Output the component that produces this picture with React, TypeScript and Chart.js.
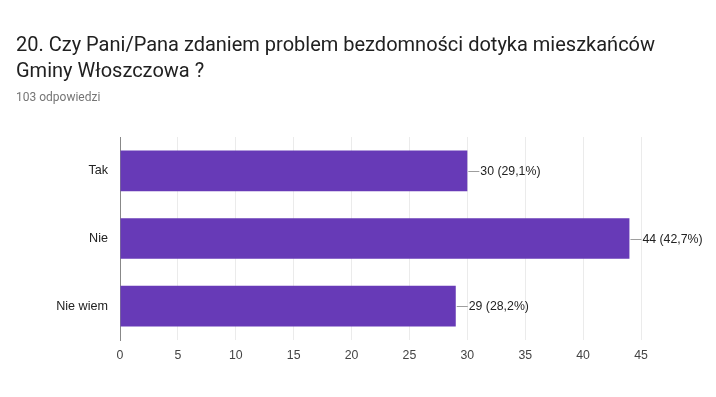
import React, { useEffect, useRef } from "react";
import { Chart, registerables } from "chart.js";

Chart.register(...registerables);

const categories = ["Tak", "Nie", "Nie wiem"];
const counts = [30, 44, 29];
const percentLabels = ["29,1%", "42,7%", "28,2%"];
const xTicks = [0, 5, 10, 15, 20, 25, 30, 35, 40, 45];
const titleLines = ["20. Czy Pani/Pana zdaniem problem bezdomności dotyka mieszkańców", "Gminy Włoszczowa ?"];
const subtitle = "103 odpowiedzi";

const labelPlugin = {
  id: "barLabels",
  afterDatasetsDraw(chart: any) {
    const ctx = chart.ctx;
    const meta = chart.getDatasetMeta(0);
    ctx.save();
    meta.data.forEach((bar: any, i: number) => {
      const x = bar.x;
      const y = Math.round(bar.y) + 0.5;
      ctx.strokeStyle = "#9e9e9e";
      ctx.lineWidth = 1;
      ctx.beginPath();
      ctx.moveTo(x + 1, y);
      ctx.lineTo(x + 12, y);
      ctx.stroke();
      ctx.fillStyle = "#222222";
      ctx.font = "12.3px 'Liberation Sans', Arial, sans-serif";
      ctx.textBaseline = "middle";
      ctx.textAlign = "left";
      ctx.fillText(`${counts[i]} (${percentLabels[i]})`, x + 13, y);
    });
    ctx.restore();
  },
};

export default function App() {
  const ref = useRef<HTMLCanvasElement>(null);
  useEffect(() => {
    const chart = new Chart(ref.current!, {
      type: "bar",
      data: {
        labels: categories,
        datasets: [
          {
            data: counts,
            backgroundColor: "#673ab7",
            barPercentage: 0.6,
            categoryPercentage: 1,
          },
        ],
      },
      options: {
        indexAxis: "y",
        animation: false,
        responsive: false,
        maintainAspectRatio: false,
        layout: { padding: { top: 137, right: 75, left: 0, bottom: 0 } },
        plugins: { legend: { display: false }, tooltip: { enabled: false } },
        scales: {
          x: {
            min: 0,
            max: 45,
            afterBuildTicks: (s: any) => {
              s.ticks = xTicks.map((v) => ({ value: v }));
            },
            afterFit: (s: any) => {
              s.height = 57;
            },
            grid: { color: "#ebebeb", drawTicks: false },
            border: { display: false },
            ticks: {
              padding: 8,
              color: "#444444",
              font: { family: "'Liberation Sans', Arial, sans-serif", size: 12.3 },
            },
          },
          y: {
            afterFit: (s: any) => {
              s.width = 120;
            },
            grid: { display: false },
            border: { display: true, color: "#888888", width: 1 },
            ticks: {
              padding: 4,
              color: "#222222",
              font: { family: "'Liberation Sans', Arial, sans-serif", size: 12.6 },
            },
          },
        },
      },
      plugins: [labelPlugin],
    });
    return () => chart.destroy();
  }, []);

  return (
    <div style={{ position: "absolute", left: 0, top: 0, width: 716, height: 397, background: "#fff" }}>
      <canvas ref={ref} width={716} height={397} style={{ position: "absolute", left: 0, top: 0 }} />
      <div
        style={{
          position: "absolute",
          left: 16,
          top: 31,
          fontFamily: "Roboto, sans-serif",
          fontSize: 20,
          lineHeight: "26px",
          color: "#212121",
          whiteSpace: "nowrap",
        }}
      >
        {titleLines.map((l, i) => (
          <div key={i}>{l}</div>
        ))}
      </div>
      <div
        style={{
          position: "absolute",
          left: 16,
          top: 89,
          fontFamily: "Roboto, sans-serif",
          fontSize: 12,
          lineHeight: "16px",
          color: "#757575",
        }}
      >
        {subtitle}
      </div>
    </div>
  );
}
